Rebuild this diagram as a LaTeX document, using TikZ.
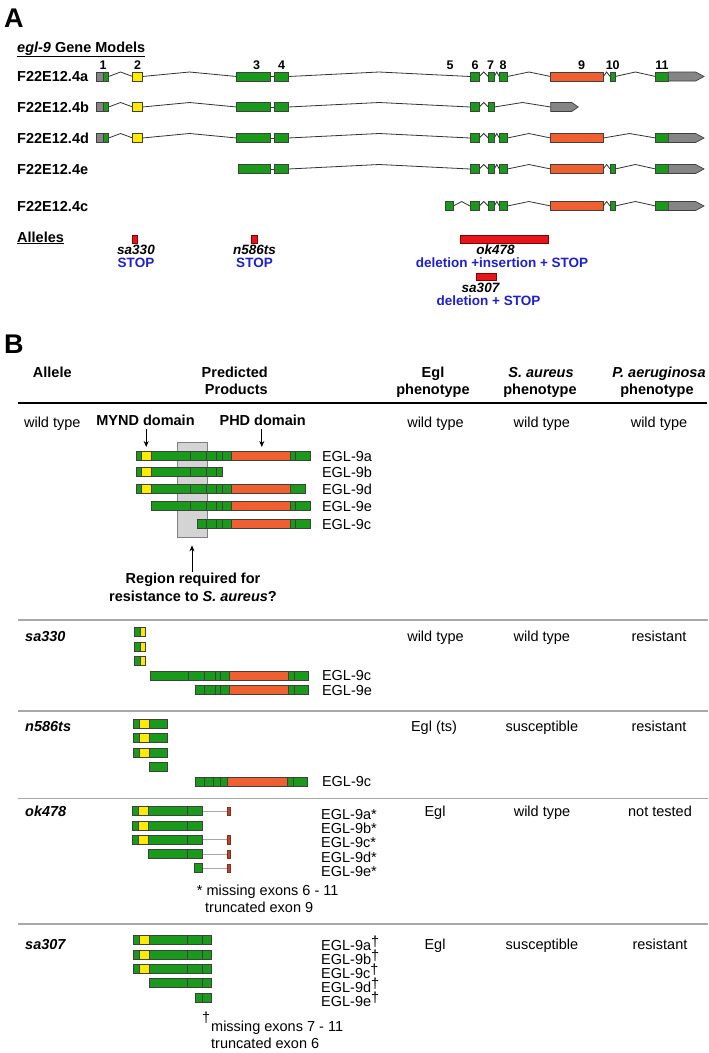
\documentclass[tikz,border=0pt]{standalone}
\usepackage{fontspec}
\setmainfont{Liberation Sans}
\usetikzlibrary{arrows.meta}

\definecolor{cgreen}{HTML}{1A9A1A}
\definecolor{cyellow}{HTML}{FFEA00}
\definecolor{corange}{HTML}{EF5F30}
\definecolor{cgray}{HTML}{858585}
\definecolor{cred}{HTML}{E8141C}
\definecolor{cblue}{HTML}{1F1FD0}
\definecolor{cbrown}{HTML}{B8432E}
\definecolor{cbox}{HTML}{D4D4D4}
\definecolor{cline}{HTML}{A8A8A8}

% segments: y, list x1/x2/colour
\newcommand{\segs}[2]{\foreach \xa/\xb/\fc in #2 {\filldraw[exon, fill=\fc] (\xa,{#1-4.5}) rectangle (\xb,{#1+4.5});}}
% introns: y, list x1/x2
\newcommand{\introns}[2]{\foreach \xa/\xb in #2 {\draw[intronline] (\xa,#1) -- ({(\xa+\xb)/2},{#1-4.5}) -- (\xb,#1);}}
% 3' UTR arrow: y, x1, tip start, tip
\newcommand{\utrtail}[4]{\filldraw[exon, fill=cgray] (#2,{#1-4.5}) -- (#3,{#1-4.5}) -- (#4,#1) -- (#3,{#1+4.5}) -- (#2,{#1+4.5}) -- cycle;}
% truncated ok478 product tail: y
\newcommand{\oktail}[1]{\draw[graylink] (202.7,#1) -- (227.3,#1); \filldraw[stopbar] (227.3,{#1-4.2}) rectangle (230.3,{#1+4.2});}

% gene models
\newcommand{\gmA}{96/103.5/cgray,103.5/108.5/cgreen,132.7/142.3/cyellow,236.7/270.7/cgreen,274/288.3/cgreen,470/479.3/cgreen,488.3/494.3/cgreen,499.3/507.3/cgreen,550.7/603.3/corange,610/615/cgreen,655.7/668.3/cgreen}
\newcommand{\gmB}{96/103.5/cgray,103.5/108.5/cgreen,132.7/142.3/cyellow,236.7/270.7/cgreen,274/288.3/cgreen,470/479.3/cgreen,488.3/494.3/cgreen}
\newcommand{\gmD}{96/103.5/cgray,103.5/108.5/cgreen,132.7/142.3/cyellow,236.7/270.7/cgreen,274/288.3/cgreen,470/479.3/cgreen,488.3/494.3/cgreen,499.3/507.3/cgreen,550.7/603.3/corange,655.7/668.3/cgreen}
\newcommand{\gmE}{238.5/270.7/cgreen,274/288.3/cgreen,470/479.3/cgreen,488.3/494.3/cgreen,499.3/507.3/cgreen,550.7/603.3/corange,610/615/cgreen,655.7/668.3/cgreen}
\newcommand{\gmC}{445.7/453.3/cgreen,470/479.3/cgreen,488.3/494.3/cgreen,499.3/507.3/cgreen,550.7/603.3/corange,610/615/cgreen,655.7/668.3/cgreen}
\newcommand{\inA}{108.5/132.7,142.3/236.7,288.3/470,479.3/488.3,494.3/499.3,507.3/550.7,603.3/610,615/655.7}
\newcommand{\inB}{108.5/132.7,142.3/236.7,288.3/470,479.3/488.3,494.3/550.7}
\newcommand{\inD}{108.5/132.7,142.3/236.7,288.3/470,479.3/488.3,494.3/499.3,507.3/550.7,603.3/655.7}
\newcommand{\inE}{288.3/470,479.3/488.3,494.3/499.3,507.3/550.7,603.3/610,615/655.7}
\newcommand{\inC}{453.3/470,479.3/488.3,494.3/499.3,507.3/550.7,603.3/610,615/655.7}

% predicted products
\newcommand{\wtA}{136/141/cgreen,141/151.7/cyellow,151.7/190/cgreen,190/206/cgreen,206/216.7/cgreen,216.7/222.7/cgreen,222.7/231/cgreen,231/290.7/corange,290.7/295.7/cgreen,295.7/310.7/cgreen}
\newcommand{\wtB}{136/141/cgreen,141/151.7/cyellow,151.7/190/cgreen,190/206/cgreen,206/216.7/cgreen,216.7/222.7/cgreen}
\newcommand{\wtD}{136/141/cgreen,141/151.7/cyellow,151.7/190/cgreen,190/206/cgreen,206/216.7/cgreen,216.7/222.7/cgreen,222.7/231/cgreen,231/290.7/corange,290.7/305.7/cgreen}
\newcommand{\wtE}{151.7/190/cgreen,190/206/cgreen,206/216.7/cgreen,216.7/222.7/cgreen,222.7/231/cgreen,231/290.7/corange,290.7/295.7/cgreen,295.7/310.7/cgreen}
\newcommand{\wtC}{197.3/206/cgreen,206/216.7/cgreen,216.7/222.7/cgreen,222.7/231/cgreen,231/290.7/corange,290.7/295.7/cgreen,295.7/310.7/cgreen}
\newcommand{\saStub}{134.3/140/cgreen,140/145/cyellow}
\newcommand{\saC}{150/188.3/cgreen,188.3/204/cgreen,204/215/cgreen,215/220.7/cgreen,220.7/229/cgreen,229/288.3/corange,288.3/294/cgreen,294/308.3/cgreen}
\newcommand{\saE}{195.7/204/cgreen,204/215/cgreen,215/220.7/cgreen,220.7/229/cgreen,229/288.3/corange,288.3/294/cgreen,294/308.3/cgreen}
\newcommand{\nStub}{133.3/139/cgreen,139/149/cyellow,149/167.7/cgreen}
\newcommand{\nStubE}{149/167.7/cgreen}
\newcommand{\nC}{195/204/cgreen,204/213.3/cgreen,213.3/220/cgreen,220/227.7/cgreen,227.7/287.3/corange,287.3/293.3/cgreen,293.3/307.7/cgreen}
\newcommand{\okA}{132.7/138.3/cgreen,138.3/148.3/cyellow,148.3/187.3/cgreen,187.3/202.7/cgreen}
\newcommand{\okD}{148.3/187.3/cgreen,187.3/202.7/cgreen}
\newcommand{\okE}{194.3/202.7/cgreen}
\newcommand{\sbA}{133.3/139/cgreen,139/149/cyellow,149/187.3/cgreen,187.3/202.7/cgreen,202.7/211/cgreen}
\newcommand{\sbD}{149/187.3/cgreen,187.3/202.7/cgreen,202.7/211/cgreen}
\newcommand{\sbE}{195/202.7/cgreen,202.7/211/cgreen}

\begin{document}
\begin{tikzpicture}[x=1pt, y=-1pt,
  every node/.style={inner sep=0pt},
  txt/.style={anchor=base, font=\fontsize{14.5}{16}\selectfont},
  boldtxt/.style={anchor=base, font=\fontsize{14.5}{16}\selectfont\bfseries},
  allele/.style={anchor=base, font=\fontsize{14.5}{16}\selectfont\bfseries\itshape},
  allelename/.style={anchor=base, font=\fontsize{13.5}{15}\selectfont\bfseries\itshape},
  panel/.style={anchor=base west, font=\fontsize{27}{30}\selectfont\bfseries},
  exnum/.style={anchor=base, font=\fontsize{12.5}{14}\selectfont\bfseries},
  mutnote/.style={anchor=base, font=\fontsize{13.5}{15}\selectfont\bfseries, text=cblue},
  exon/.style={draw=black!75, line width=0.7pt},
  intronline/.style={draw=black!80, line width=0.8pt},
  allelebox/.style={draw=red!50!black, fill=cred, line width=0.6pt},
  graylink/.style={draw=cline, line width=1pt},
  stopbar/.style={draw=cbrown!70!black, fill=cbrown, line width=0.5pt},
  rowsep/.style={draw=cline, line width=1.4pt},
  pointer/.style={-{Stealth[length=6pt,width=5pt]}, line width=0.8pt},
  regionbox/.style={draw=black!50, fill=cbox, line width=0.8pt, minimum width=30pt, minimum height=95pt}
]
\fill[white] (0,0) rectangle (709,1053);
\useasboundingbox (0,0) rectangle (709,1053);

% ---------- A: gene models
\node[panel] (panA) at (4,27) {A};
\node[boldtxt, anchor=base west] (gmtitle) at (17,52) {\underline{\textit{egl-9} Gene Models}};
\foreach \xx/\nn in {103/1,137.7/2,256.7/3,281.7/4,450/5,475/6,490.7/7,503/8,581.7/9,612.7/10,662/11}
  \node[exnum] (exn\nn) at (\xx,69) {\nn};
\foreach \yy/\gg in {81.5/a,112/b,143/d,174/e,211/c}
  \node[boldtxt, anchor=base west] (gl\gg) at (17,\yy) {F22E12.4\gg};

\introns{76.5}{\inA} \draw[intronline] (270.7,76.5) -- (274,76.5);
\segs{76.5}{\gmA} \utrtail{76.5}{668.3}{695.7}{704}
\introns{107}{\inB} \draw[intronline] (270.7,107) -- (274,107);
\segs{107}{\gmB} \utrtail{107}{550.7}{571.7}{578.3}
\introns{138}{\inD} \draw[intronline] (270.7,138) -- (274,138);
\segs{138}{\gmD} \utrtail{138}{668.3}{695.7}{704}
\introns{169}{\inE} \draw[intronline] (270.7,169) -- (274,169);
\segs{169}{\gmE} \utrtail{169}{668.3}{695.7}{704}
\introns{206}{\inC}
\segs{206}{\gmC} \utrtail{206}{668.3}{695.7}{704}

% alleles
\node[boldtxt, anchor=base west] (alleles) at (17,242) {\underline{Alleles}};
\filldraw[allelebox] (132,235) rectangle (137.5,243);
\filldraw[allelebox] (251.5,235) rectangle (257,243);
\filldraw[allelebox] (460,235.5) rectangle (548.5,243);
\filldraw[allelebox] (476.5,273) rectangle (496.5,280.5);
\node[allelename] (al1) at (136,254) {sa330};
\node[mutnote] (al1n) at (136,267) {STOP};
\node[allelename] (al2) at (254.5,254) {n586ts};
\node[mutnote] (al2n) at (254.5,267) {STOP};
\node[allelename] (al3) at (495.5,254.5) {ok478};
\node[mutnote] (al3n) at (502,267) {deletion +insertion + STOP};
\node[allelename] (al4) at (480.5,292.5) {sa307};
\node[mutnote] (al4n) at (488.5,305) {deletion + STOP};

% ---------- B: table
\node[panel] (panB) at (4,353) {B};
\node[boldtxt] (hallele) at (52.3,377.3) {Allele};
\node[boldtxt, anchor=base east] (hpred) at (268,377.3) {Predicted};
\node[boldtxt, anchor=base east] (hprod) at (268,394) {Products};
\node[boldtxt] (hegl) at (433,377.3) {Egl};
\node[boldtxt] (hegl2) at (433,394) {phenotype};
\node[boldtxt] (hsa) at (541,377.3) {\textit{S. aureus}};
\node[boldtxt] (hsa2) at (540,394) {phenotype};
\node[boldtxt] (hpa) at (659,377.3) {\textit{P. aeruginosa}};
\node[boldtxt] (hpa2) at (657,394) {phenotype};
\draw[line width=2.2pt] (18,403) -- (707,403);

% wild type
\node[txt] (wt) at (52.3,427.3) {wild type};
\node[txt] (wtegl) at (435.5,427.3) {wild type};
\node[txt] (wtsa) at (541.8,427.3) {wild type};
\node[txt] (wtpa) at (659,427.3) {wild type};
\node[boldtxt] (mynd) at (145.5,425) {MYND domain};
\node[boldtxt] (phd) at (262.7,425) {PHD domain};
\coordinate (myndtip) at (146.2,447);
\coordinate (phdtip) at (261.8,447);
\draw[pointer, shorten <=4pt] (mynd.south -| myndtip) -- (myndtip);
\draw[pointer, shorten <=4pt] (phd.south -| phdtip) -- (phdtip);
\node[regionbox] (region) at (192,490) {};
\segs{455.7}{\wtA} \segs{472.3}{\wtB} \segs{489}{\wtD} \segs{505.7}{\wtE} \segs{523.7}{\wtC}
\foreach \yy/\nm in {461/a,477.8/b,494.5/d,511.2/e,529.2/c}
  \node[txt, anchor=base west] (wt\nm) at (321.8,\yy) {EGL-9\nm};
\node[boldtxt] (regtxt1) at (193,583.5) {Region required for};
\node[boldtxt] (regtxt2) at (193,601.5) {resistance to \textit{S. aureus}?};
\draw[pointer, shorten <=1pt, shorten >=7.5pt] (regtxt1.north -| region.south) -- (region.south);
\draw[rowsep] (18,620) -- (708,620);

% sa330
\node[allele, anchor=base west] (r1) at (25,641.5) {sa330};
\node[txt] (r1egl) at (435.5,641.5) {wild type};
\node[txt] (r1sa) at (541.8,641.5) {wild type};
\node[txt] (r1pa) at (659,641.5) {resistant};
\segs{632.2}{\saStub} \segs{646.7}{\saStub} \segs{661.2}{\saStub}
\segs{675.7}{\saC} \segs{690}{\saE}
\node[txt, anchor=base west] (r1c) at (321.8,680.7) {EGL-9c};
\node[txt, anchor=base west] (r1e) at (321.8,695) {EGL-9e};
\draw[rowsep] (18,711) -- (708,711);

% n586ts
\node[allele, anchor=base west] (r2) at (25,731) {n586ts};
\node[txt] (r2egl) at (434,731) {Egl (ts)};
\node[txt] (r2sa) at (541.8,731) {susceptible};
\node[txt] (r2pa) at (659,731) {resistant};
\segs{724}{\nStub} \segs{738.3}{\nStub} \segs{752.7}{\nStub} \segs{767}{\nStubE}
\segs{781.7}{\nC}
\node[txt, anchor=base west] (r2c) at (321.8,786.7) {EGL-9c};
\draw[rowsep] (18,798.5) -- (708,798.5);

% ok478
\node[allele, anchor=base west] (r3) at (25,816) {ok478};
\node[txt] (r3egl) at (435,816) {Egl};
\node[txt] (r3sa) at (542,816) {wild type};
\node[txt] (r3pa) at (660,816) {not tested};
\oktail{811.2} \segs{811.2}{\okA}
\segs{825.5}{\okA}
\oktail{839.7} \segs{839.7}{\okA}
\oktail{854} \segs{854}{\okD}
\oktail{868.2} \segs{868.2}{\okE}
\foreach \yy/\nm in {819.5/a,833.7/b,847.9/c,862.1/d,876.3/e}
  \node[txt, anchor=base west] (r3\nm) at (321,\yy) {EGL-9\nm*};
\node[txt, anchor=base west] (r3note1) at (196.7,895) {* missing exons 6 - 11};
\node[txt, anchor=base west] (r3note2) at (205,912.7) {truncated exon 9};
\draw[rowsep] (18,924) -- (708,924);

% sa307
\node[allele, anchor=base west] (r4) at (25,949) {sa307};
\node[txt] (r4egl) at (435,949) {Egl};
\node[txt] (r4sa) at (542,949) {susceptible};
\node[txt] (r4pa) at (660,949) {resistant};
\segs{940.2}{\sbA} \segs{954.5}{\sbA} \segs{968.8}{\sbA} \segs{983.2}{\sbD} \segs{997.5}{\sbE}
\foreach \yy/\nm in {950/a,964.2/b,978.4/c,992.6/d,1006.8/e}
  \node[txt, anchor=base west] (r4\nm) at (321,\yy) {EGL-9\nm\raisebox{4pt}{†}};
\node[txt] (r4dag) at (206.2,1022.5) {†};
\node[txt, anchor=base west] (r4note1) at (211,1031) {missing exons 7 - 11};
\node[txt, anchor=base west] (r4note2) at (211,1048) {truncated exon 6};
\end{tikzpicture}
\end{document}
